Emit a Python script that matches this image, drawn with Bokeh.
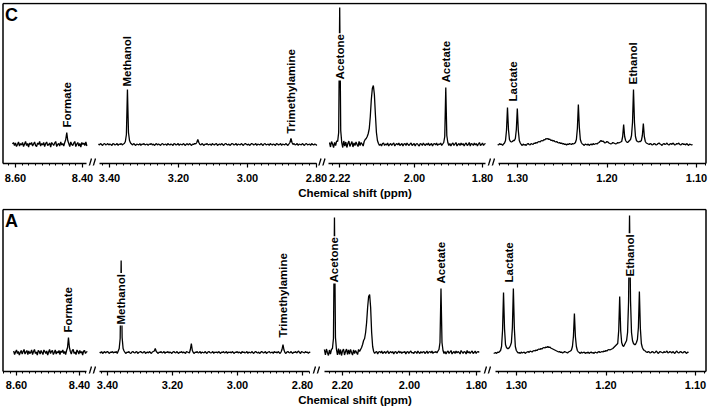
import numpy as np
from bokeh.plotting import figure
from bokeh.models import Range1d, FixedTicker, ColumnDataSource, Title
from bokeh.layouts import column
from bokeh.embed import file_html
from bokeh.resources import INLINE
from bokeh.core.properties import value

# ---------------- data (intensity, a.u.) ----------------
# Each spectrum is shown in four ppm windows; start ppm and sampling step per window
C_start = [8.609, 3.432, 2.250, 1.3222]
C_step = [0.003, 0.003, 0.003, 0.0011]
C_w1 = [0.5, 2, -1, 1.5, -2, 0, 2.5, -1.5, 1, -0.5,
        2, -2, 0.5, 3, -1, 1, -2.5, 1.5, 0, 2,
        -1.5, 0.5, 2.5, -1, -2, 1.5, 0, 3, -1.5, 1,
        -0.5, 2, -2, 1, 2.5, -1, 0, 1.5, -2.5, 2,
        0.5, -1, 1.5, 3, -2, 0, 1, -1.5, 2.5, -0.5,
        1, -1.5, 2, 5, 12, 4, 1, -2, 2.5, 0,
        -1, 1.5, 3, -2, 0.5, 2, -1.5, 1, -2.5, 2,
        0, 1.5, -1, 2.5, -1.5]
C_w2 = [0.5, -0.5, 1, 0, -1, 0.5, 1, -0.5, 0, 1,
        -0.5, 0.5, 0, -1, 1, 0.5, -0.5, 0, 1, -1,
        0.5, 0, 1, -0.5, 0.5, 1, 3, 10, 55, 12,
        4, 1.5, 0.5, -0.5, 1, 0, -1, 0.5, 0, -0.5,
        1, -1, 0.5, 0, 1, -0.5, 0, 0.5, -1, 0.5,
        0, 1, -0.5, 0.5, -1, 0, 1, -0.5, 0.5, 0,
        -1, 0.5, 1, -0.5, 0, 0.5, -1, 1, 0, -0.5,
        0.5, 0, -1, 1, 0.5, -0.5, 0, 1, -1, 0.5,
        0, -0.5, 1, 0, -1, 0.5, 0.5, -0.5, 1, 0,
        -1, 0.5, 0, 1, 0.5, 2, 5, 2, 0, -0.5,
        1, 0, -1, 0.5, 0, 1, -0.5, 0, 0.5, -1,
        1, 0, -0.5, 0.5, 1, -1, 0, 0.5, -0.5, 1,
        0, -1, 0.5, 1, 0, -0.5, 0.5, -1, 0, 1,
        0.5, -0.5, 0, 1, -1, 0.5, 0, -0.5, 1, 0,
        -1, 0.5, 1, 0, -0.5, 0.5, -1, 0, 1, 0.5,
        -0.5, 0, 1, -1, 0.5, 0, -0.5, 1, 0, -1,
        0.5, 1, -0.5, 0, 0.5, -1, 1, 0, -0.5, 0.5,
        0, -1, 1, 0.5, -0.5, 0, 1, -1, 0.5, 0,
        -0.5, 1, 0, -1, 0.5, 2, 6, 2, 0, 1,
        -0.5, 0, 1, -1, 0.5, 0, -0.5, 1, 0, -1,
        0.5, 1, -0.5, 0, 0.5, -1, 1, 0, -0.5, 0.5,
        0, -1]
C_w3 = [2, -2.5, 3, 0.5, -3, 2, -1, 3.5, 3, 12,
        137, 14, 2, -3, 3.5, -1.5, 2.5, -3, 1, 3.5,
        -2, 0.5, 3, -2.5, 1.5, -1, 2.5, 0, -2, 3,
        -1, 2, 0.5, -1.5, 3, 5, 6, 8, 11, 16,
        28, 45, 56, 59, 50, 30, 12, 4, 1, -1,
        0.5, -1.5, 1, 1.5, -1, 0.5, -0.5, 1.5, -1.5, 0,
        1, -1, 0.5, 1.5, -1.5, 0, 1, -0.5, 1.5, -1,
        0, 1, -1.5, 0.5, 1, -1, 1.5, 0, -1, 0.5,
        1.5, -1, 0, 1, -1.5, 0.5, 1, -0.5, -1.5, 1,
        0.5, -1, 1.5, 0, -1, 1, -0.5, 1.5, -1, 0,
        1, -1.5, 0.5, 1, -0.5, 1.5, -1, 0.5, 0, 1.5,
        -1, 0.5, 2, 8, 57, 9, 2, -1, 1, -1.5,
        0.5, 1.5, -1, 0.5, 2, -1.5, 0, 1, -1, 1.5,
        -0.5, 1, -1.5, 0.5, 1.5, -1, 0, 2, -1.5, 1,
        0.5, -1, 1.5, -0.5, 1, -1.5, 0.5, 2, -1, 0,
        1.5, -1, 0.5, 1]
C_w4 = [0, -0.5, 1, 0, 0.5, -1, 0.5, 1.5, 4, 14,
        37, 15, 5, 3, 2.5, 3, 4, 4, 6, 15,
        36, 14, 4, 1.5, 0, -1, 0.5, -0.5, 0, -1,
        0.5, 1, 0, -0.5, 1, 0.5, 0, 1.5, 1, 2,
        1.5, 2.5, 3, 2.5, 3.5, 4, 3.5, 5, 4.5, 6,
        5.5, 6, 5, 5.5, 4, 4.5, 3.5, 4, 3, 2.5,
        3, 2, 1.5, 2, 1, 1.5, 0.5, 1, 0, 0.5,
        -0.5, 0.5, 0, 1, 0.5, 0, 1, 0.5, 1, 2,
        5, 16, 40, 17, 5, 2, 0.5, 0, -1, 0.5,
        0, -0.5, 0.5, -1, 0, 0.5, -0.5, 1, 0, 0.5,
        1, 0.5, 1.5, 2, 3, 4, 3, 3.5, 2.5, 1.5,
        2, 3, 2.5, 1.5, 1, 0.5, 1, 2, 1.5, 1,
        0.5, 1, 2, 1.5, 2, 2.5, 3, 8, 20, 8,
        4, 2.5, 2, 3, 4, 5, 9, 22, 55, 22,
        8, 4, 3, 2.5, 3, 3, 4, 9, 21, 8,
        3, 1.5, 1, 0.5, 0, 1, 0.5, -0.5, 0, 1,
        0.5, -0.5, 0, 1, 1.5, 0.5, 0, -1, 0.5, 1,
        0, 0.5, 1.5, 0, -0.5, 0.5, 1, 0, 1.5, 0.5,
        -0.5, 0, 1, 0.5, 1.5, 0, -0.5, 0.5, 1, 0,
        0.5, -0.5, 1, 0, -1, 0.5, 0, -0.5, 0]

A_start = [8.609, 3.424, 2.254, 1.3255]
A_step = [0.003, 0.003, 0.003, 0.0011]
A_w1 = [1.5, -2, 0.5, 2.5, -1, 1, -2.5, 0, 2, -1.5,
        1, 3, -1.5, 0.5, 2, -2, 1.5, -1, 0, 2.5,
        -2, 1, 3, -1, 0.5, -2.5, 2, 1, -1.5, 2,
        0, -2, 2.5, 1, -1, 1.5, -2.5, 0.5, 3, -1,
        1, 2, -2, 0, 2.5, -1.5, 1, -0.5, 2, -2,
        1.5, 0, 2.5, -1, 1, -2, 2, 5, 15, 5,
        1, -1.5, 2, 3, -1, 0.5, -2, 2.5, 1, -1.5,
        2, -0.5, 1, -2.5, 1.5, 2, -1, 0.5, 1]
A_w2 = [0.5, -0.5, 1, -1, 0, 1, -0.5, 0.5, 1, 0,
        -1, 0.5, 0, 1, -0.5, 0.5, 0, 1, -1, 1.5,
        4, 14, 92, 15, 4, 1.5, 0, -1, 0.5, 0,
        1, -0.5, -1, 0.5, 1, 0, -0.5, 0.5, 1, -1,
        0, 0.5, 1, 0, -0.5, 0.5, 1, -1, 0, 0.5,
        -0.5, 1, 0, -1, 0.5, 1, 1.5, 4, 1, 0,
        -1, 0.5, 0, 1, -0.5, 0, 1, -1, 0.5, 0,
        1, -0.5, 0.5, 0, -1, 0.5, 1, 0, -0.5, 1,
        0, -1, 0.5, 0, 1, -0.5, 0.5, 0, -1, 1,
        0.5, 0, -0.5, 3, 9, 2, 0, -1, 0.5, 0,
        1, -0.5, 0, 1, -1, 0.5, 0, -0.5, 1, 0,
        -1, 0.5, 1, 0, -0.5, 0, 1, -1, 0.5, 0,
        0.5, -0.5, 1, 0, -1, 0.5, 0, 1, -0.5, 0,
        1, -1, 0.5, 0, 0.5, -0.5, 1, 0, -1, 0.5,
        0, 1, -0.5, 0.5, 0, -1, 1, 0, 0.5, -0.5,
        0, 1, -1, 0.5, 0, -0.5, 1, 0, -1, 0.5,
        1, 0, -0.5, 0.5, -1, 0, 1, 0.5, -0.5, 0,
        1, -1, 0, 0.5, 1, -0.5, 0, 0.5, -1, 1,
        0, 0.5, -0.5, 1, 0, -1, 0.5, 3, 8, 2.5,
        0, -1, 0.5, 1, 0, -0.5, 1, 0, -1, 0.5,
        0, 1, -0.5, 0.5, 1.5, 0, -1, 1, 0.5, 0,
        -0.5, 1, 0, 0.5, -1, 0.5, 0]
A_w3 = [3, -2.5, 3.5, 0, -3, 2.5, -1.5, 3, 4, 14,
        135, 15, 3, -2.5, 4, -2, 3, -3, 1.5, 3.5,
        -2.5, 1, 3.5, -2, 2.5, -1.5, 3, 0, -2.5, 2.5,
        -1, 2, 0, -2, 3, 1, 3, 5, 8, 12,
        14, 20, 30, 45, 56, 58, 45, 20, 6, 1,
        -1, 0.5, 1, -1.5, 0.5, 1, -0.5, 1.5, -1, 0,
        1, -1, 0.5, 1.5, -1, 0, 1, -0.5, 1, -1.5,
        0.5, 1, -1, 0, 1.5, -0.5, 1, -1, 0.5, 0,
        1, -1.5, 0.5, 1, -1, 0.5, 1.5, -0.5, 0, -1,
        1, 0.5, -1, 1.5, 0, -1, 1, -0.5, 0.5, 1,
        -1, 0, 1.5, -1, 0.5, 1, -0.5, 1.5, -1, 0.5,
        0, 1, -0.5, 1.5, 3, 10, 64, 10, 2, -1,
        1, -1.5, 0.5, 1.5, -1, 0.5, 2, -1.5, 0, 1,
        -1, 1.5, -0.5, 1, 0, -1.5, 2, 0.5, -1, 1,
        0.5, -1.5, 2, -0.5, 1, -1, 0.5, 1.5, -1, 0,
        1.5, -1, 0.5, 1, 0]
A_w4 = [-1, -0.5, 0, -1, 0.5, 0, 1, 2, 6, 22,
        60, 24, 8, 5, 4, 4, 5, 7, 10, 25,
        64, 24, 6, 2, 0.5, -0.5, 0, -1, 0.5, -0.5,
        0, 0.5, -1, 0, 0.5, 1, 0, 1.5, 1, 0.5,
        1.5, 2, 1.5, 2.5, 2, 3, 3.5, 3, 4, 3.5,
        4.5, 5, 4.5, 5.5, 5, 6, 5, 5.5, 4.5, 4,
        3.5, 3, 2.5, 2, 1.5, 1, 0.5, 1, 0, 0.5,
        -0.5, 0, 1, 0.5, 0, -0.5, 0.5, 1, 1.5, 2.5,
        6, 16, 39, 16, 6, 2, 0.5, 0, -1, 0.5,
        -0.5, 0, 0.5, -1, 0, -0.5, 0.5, -1, 0, 0.5,
        -0.5, 0, -1, 0.5, 0, -0.5, 0.5, 1, 0, 0.5,
        1, 0.5, 1.5, 1, 2, 1.5, 2.5, 3, 2.5, 3,
        3.5, 4, 5, 6, 7, 8, 9, 22, 56, 22,
        10, 7, 6, 8, 10, 12, 20, 50, 137, 52,
        20, 12, 9, 8, 8, 10, 13, 25, 61, 24,
        9, 5, 3, 2, 1.5, 0.5, 0, 1, 0.5, -0.5,
        0, 1, 0.5, -0.5, 0, 1.5, 0.5, -1, 0, 1,
        0.5, 0, -0.5, 1, 0, 0.5, 1.5, -0.5, 0, 1,
        0.5, -0.5, 1, 0, -1, 0.5, 1.5, 0, -0.5, 0.5,
        1, 0, -0.5, 0.5, 1, 0, -1, 0.5, 0]

metabolites = ["Formate", "Methanol", "Trimethylamine", "Acetone", "Acetate", "Lactate", "Ethanol"]
label_window = [0, 1, 1, 2, 2, 3, 3]
C_label_ppm = [8.447, 3.348, 2.874, 2.220, 1.908, 1.305, 1.1704]
C_label_y = [16, 57, 10, 64, 61, 42, 59]
A_label_ppm = [8.435, 3.358, 2.860, 2.224, 1.906, 1.3089, 1.1737]
A_label_y = [19, 27, 14, 69, 68, 69, 75]

C_ticks = [[8.60, 8.40], [3.40, 3.20, 3.00, 2.80], [2.22, 2.00, 1.80], [1.30, 1.20, 1.10]]
A_ticks = [[8.60, 8.40], [3.40, 3.20, 3.00, 2.80], [2.20, 2.00, 1.80], [1.30, 1.20, 1.10]]
minor_step = [0.02, 0.02, 0.02, 0.01]
axis_title = "Chemical shift (ppm)"

# ---------------- layout (pixel geometry of the broken axis) ----------------
GEO = {
    "C": dict(baseline=144, top=3, axis=163, left=2.5, right=705.5, fig_top=0, fig_h=205,
              calib=[(8.60, 15, 8.40, 82), (3.40, 109, 2.80, 316), (2.00, 414, 1.80, 482), (1.30, 517, 1.10, 696)],
              ext=[(2.5, 86), (99, 316), (328, 485), (498, 705.5)],
              breaks=[92.5, 322, 491.5], title_offset=8, standoff=6),
    "A": dict(baseline=352, top=209, axis=371, left=2.5, right=705.5, fig_top=205, fig_h=204,
              calib=[(8.60, 16, 8.40, 79), (3.40, 107, 2.80, 302), (2.20, 342, 1.80, 476), (1.30, 516, 1.10, 695)],
              ext=[(2.5, 86), (99, 309), (324, 480), (495, 705.5)],
              breaks=[92.5, 316.5, 487.5], title_offset=4, standoff=5),
}
FONT = "Liberation Sans"
INK = "#000000"
W = 709


def make_map(c):
    a, xa, b, xb = c
    k = (xb - xa) / (a - b)
    fwd = lambda ppm: xa + (a - np.asarray(ppm, dtype=float)) * k
    inv = lambda px: a - (np.asarray(px, dtype=float) - xa) / k
    return fwd, inv


def build_panel(letter, starts, steps, windows, lab_ppm, lab_y, ticks, g):
    base = g["baseline"]
    y_axis = base - g["axis"]
    y_top = base - g["top"]
    frame_top = g["top"] - 1
    frame_bot = g["axis"] + 2
    p = figure(width=W, height=g["fig_h"], x_range=Range1d(0, W),
               y_range=Range1d(base - frame_bot, base - frame_top),
               output_backend="svg", toolbar_location=None, y_axis_location=None,
               min_border_left=0, min_border_right=0,
               min_border_top=frame_top - g["fig_top"],
               min_border_bottom=g["fig_top"] + g["fig_h"] - frame_bot)
    p.outline_line_color = None
    p.xgrid.visible = False
    p.ygrid.visible = False
    p.background_fill_color = "white"
    p.border_fill_color = "white"

    maps = [make_map(c) for c in g["calib"]]

    # spectrum
    for w in range(4):
        ppm = starts[w] - steps[w] * np.arange(len(windows[w]))
        src = ColumnDataSource(dict(x=maps[w][0](ppm), y=windows[w]))
        p.line("x", "y", source=src, line_color=INK, line_width=1.3)

    # frame (top, left, right) and broken bottom axis line
    p.multi_line(xs=[[g["left"], g["right"]], [g["left"], g["left"]], [g["right"], g["right"]]],
                 ys=[[y_top, y_top], [y_axis, y_top], [y_axis, y_top]], line_color=INK, line_width=1.5)
    p.multi_line(xs=[[lo, hi] for lo, hi in g["ext"]], ys=[[y_axis, y_axis] for _ in g["ext"]],
                 line_color=INK, line_width=1.5)
    bx, by = [], []
    for cx in g["breaks"]:
        bx += [[cx - 4.5, cx - 1.5], [cx - 0.5, cx + 2.5]]
        by += [[y_axis - 5, y_axis + 5], [y_axis - 5, y_axis + 5]]
    p.multi_line(xs=bx, ys=by, line_color=INK, line_width=1.3)

    # ticks
    major, minor, overrides = [], [], {}
    for w in range(4):
        fwd, inv = maps[w]
        for t in ticks[w]:
            px = round(float(fwd(t)), 3)
            major.append(px)
            overrides[px] = "%.2f" % t
        lo, hi = g["ext"][w]
        ppm_hi, ppm_lo = float(inv(lo)), float(inv(hi))
        st = minor_step[w]
        n0, n1 = int(np.ceil(ppm_lo / st - 1e-6)), int(np.floor(ppm_hi / st + 1e-6))
        for n in range(n0, n1 + 1):
            minor.append(round(float(fwd(n * st)), 3))
    ax = p.xaxis[0]
    ax.ticker = FixedTicker(ticks=major, minor_ticks=minor)
    ax.major_label_overrides = overrides
    ax.axis_line_color = None
    ax.major_tick_in = 2
    ax.major_tick_out = 2
    ax.minor_tick_in = 2
    ax.minor_tick_out = 0
    ax.major_tick_line_color = INK
    ax.minor_tick_line_color = INK
    ax.major_tick_line_width = 1.2
    ax.minor_tick_line_width = 1
    ax.major_label_standoff = g["standoff"]
    ax.major_label_text_font = FONT
    ax.major_label_text_font_style = "bold"
    ax.major_label_text_font_size = "11px"
    ax.major_label_text_color = INK

    # metabolite labels
    lx = [float(maps[w][0](v)) for w, v in zip(label_window, lab_ppm)]
    lsrc = ColumnDataSource(dict(x=lx, y=lab_y, t=metabolites))
    p.text("x", "y", text="t", source=lsrc, angle=np.pi / 2, text_align="left",
           text_baseline="middle", text_font=value(FONT), text_font_style="bold",
           text_font_size=value("11.5px"), text_color=INK,
           background_fill_color="white", padding=1)

    # panel letter
    p.text(x=[4.5], y=[y_top - 1], text=[letter], text_align="left", text_baseline="top",
           text_font=value(FONT), text_font_style="bold", text_font_size=value("18px"), text_color=INK)

    # axis title
    p.add_layout(Title(text=axis_title, align="center", offset=g["title_offset"], standoff=0,
                       text_font=FONT, text_font_style="bold", text_font_size="11.5px",
                       text_color=INK), "below")
    return p


pC = build_panel("C", C_start, C_step, [C_w1, C_w2, C_w3, C_w4], C_label_ppm, C_label_y, C_ticks, GEO["C"])
pA = build_panel("A", A_start, A_step, [A_w1, A_w2, A_w3, A_w4], A_label_ppm, A_label_y, A_ticks, GEO["A"])

layout = column(pC, pA, spacing=0)
open("out.html", "w").write(file_html(layout, INLINE))
